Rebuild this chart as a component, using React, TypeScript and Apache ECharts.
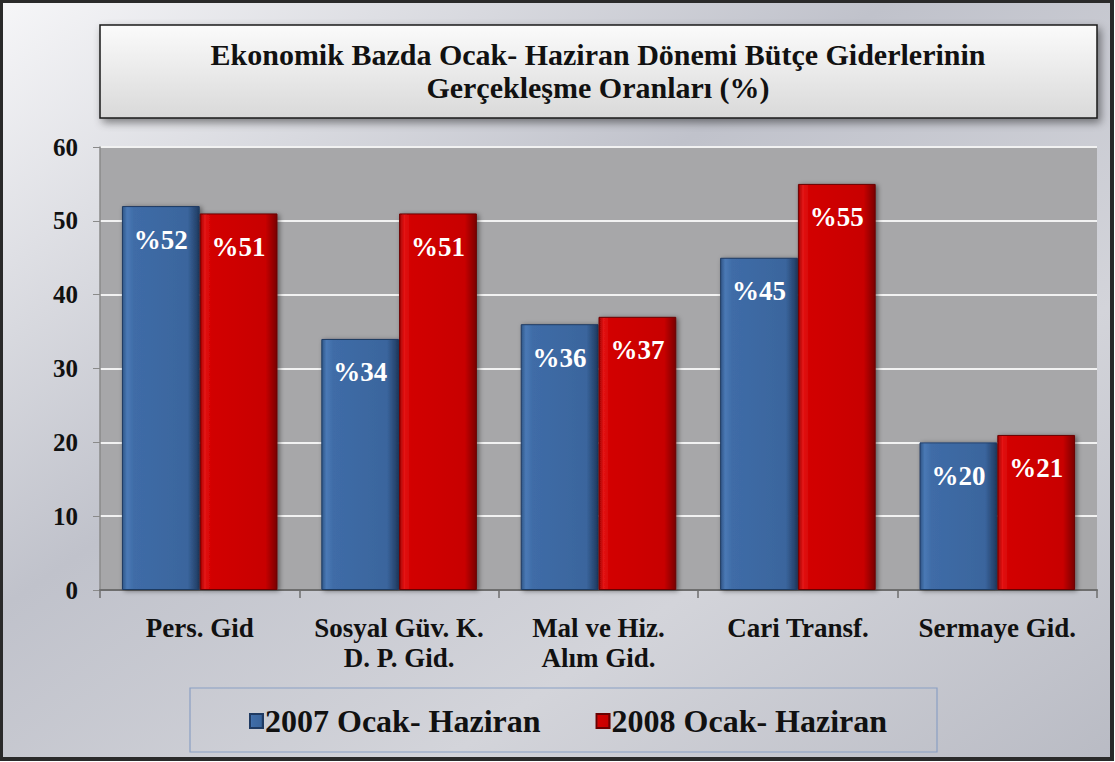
import React, { useEffect, useRef } from "react";
import * as echarts from "echarts";

const categories = ["Pers. Gid", "Sosyal Güv. K.\nD. P. Gid.", "Mal ve Hiz.\nAlım Gid.", "Cari Transf.", "Sermaye Gid."];
const series2007 = [52, 34, 36, 45, 20];
const series2008 = [51, 51, 37, 55, 21];
const seriesNames = ["2007 Ocak- Haziran", "2008 Ocak- Haziran"];
const titleText = "Ekonomik Bazda Ocak- Haziran Dönemi Bütçe Giderlerinin\nGerçekleşme Oranları (%)";

const SERIF = "'Liberation Serif', 'Times New Roman', serif";

const blueFill = new echarts.graphic.LinearGradient(0, 0, 1, 0, [
  { offset: 0, color: "#2f5687" },
  { offset: 0.06, color: "#4a79b5" },
  { offset: 0.15, color: "#3f6ca7" },
  { offset: 0.85, color: "#3a659d" },
  { offset: 1, color: "#203a60" },
]);
const redFill = new echarts.graphic.LinearGradient(0, 0, 1, 0, [
  { offset: 0, color: "#a00000" },
  { offset: 0.06, color: "#e41414" },
  { offset: 0.15, color: "#d20000" },
  { offset: 0.85, color: "#c80000" },
  { offset: 1, color: "#7a0000" },
]);

export default function App() {
  const ref = useRef<HTMLDivElement>(null);
  useEffect(() => {
    document.body.style.margin = "0";
    const chart = echarts.init(ref.current!, null, { renderer: "svg" });
    const labelStyle = {
      show: true,
      position: "insideTop" as const,
      distance: 20,
      color: "#ffffff",
      fontFamily: SERIF,
      fontWeight: "bold" as const,
      fontSize: 27,
      formatter: (p: any) => "%" + p.value,
    };
    chart.setOption({
      animation: false,
      graphic: [
        {
          type: "rect",
          z: -100,
          silent: true,
          shape: { x: 1, y: 1, width: 1111, height: 758 },
          style: {
            fill: new echarts.graphic.LinearGradient(0, 0, 1, 1, [
              { offset: 0, color: "#f6f6f8" },
              { offset: 0.4, color: "#c0c2cb" },
              { offset: 0.7, color: "#d3d4da" },
              { offset: 1, color: "#b9bbc4" },
            ]),
            stroke: "#2a2a2a",
            lineWidth: 4,
          },
        },
        {
          type: "rect",
          z: -50,
          silent: true,
          shape: { x: 100, y: 25, width: 997, height: 93 },
          style: {
            fill: new echarts.graphic.LinearGradient(0, 0, 0, 1, [
              { offset: 0, color: "#fbfbfb" },
              { offset: 1, color: "#d9d9d9" },
            ]),
            stroke: "#1a1a1a",
            lineWidth: 1.5,
            shadowColor: "rgba(0,0,0,0.45)",
            shadowBlur: 8,
            shadowOffsetX: 3,
            shadowOffsetY: 4,
          },
        },
        {
          type: "rect",
          z: -50,
          silent: true,
          shape: { x: 190, y: 688, width: 747, height: 64 },
          style: {
            fill: "rgba(0,0,0,0)",
            stroke: "#8a9fc4",
            lineWidth: 1.2,
          },
        },
      ],
      title: {
        text: titleText,
        left: 598,
        top: 38,
        padding: 0,
        textAlign: "center",
        textStyle: {
          fontFamily: SERIF,
          fontWeight: "bold",
          fontSize: 30,
          lineHeight: 33,
          color: "#111111",
        },
      },
      legend: {
        left: 244,
        top: 700,
        itemGap: 55,
        itemWidth: 13,
        itemHeight: 14,
        icon: "rect",
        textStyle: {
          fontFamily: SERIF,
          fontWeight: "bold",
          fontSize: 32,
          color: "#111111",
          padding: [0, 0, 0, -3],
        },
        data: seriesNames,
      },
      grid: {
        left: 100,
        right: 18,
        top: 147,
        bottom: 172,
        show: true,
        backgroundColor: "#a7a7a9",
        borderWidth: 0,
      },
      xAxis: {
        type: "category",
        data: categories,
        axisLine: { lineStyle: { color: "#6e6e6e", width: 2 } },
        axisTick: { show: true, interval: 0, length: 8, lineStyle: { color: "#6e6e6e", width: 1.5 } },
        axisLabel: {
          interval: 0,
          hideOverlap: false,
          margin: 23,
          fontFamily: SERIF,
          fontWeight: "bold",
          fontSize: 27,
          lineHeight: 30,
          color: "#111111",
        },
      },
      yAxis: {
        type: "value",
        min: 0,
        max: 60,
        interval: 10,
        axisLine: { show: true, lineStyle: { color: "#8a8a8a", width: 1.5 } },
        axisTick: { show: true, length: 7, lineStyle: { color: "#8a8a8a" } },
        splitLine: { lineStyle: { color: "#f2f2f2", width: 2 } },
        axisLabel: {
          margin: 22,
          fontFamily: SERIF,
          fontWeight: "bold",
          fontSize: 25,
          color: "#111111",
        },
      },
      series: [
        {
          name: seriesNames[0],
          type: "bar",
          data: series2007,
          barGap: "0%",
          barCategoryGap: "22%",
          itemStyle: {
            color: blueFill,
            borderColor: "#1f3a62",
            borderWidth: 1,
            shadowColor: "rgba(0,0,0,0.45)",
            shadowBlur: 5,
            shadowOffsetX: 2,
            shadowOffsetY: 1,
          },
          label: labelStyle,
        },
        {
          name: seriesNames[1],
          type: "bar",
          data: series2008,
          itemStyle: {
            color: redFill,
            borderColor: "#6a0000",
            borderWidth: 1,
            shadowColor: "rgba(0,0,0,0.45)",
            shadowBlur: 5,
            shadowOffsetX: 2,
            shadowOffsetY: 1,
          },
          label: labelStyle,
        },
      ],
    });
    return () => chart.dispose();
  }, []);
  return <div ref={ref} style={{ width: 1115, height: 762 }} />;
}
